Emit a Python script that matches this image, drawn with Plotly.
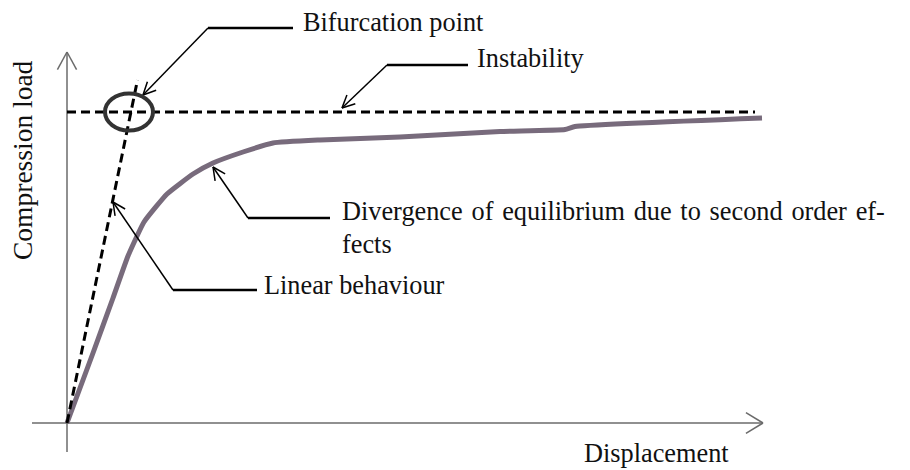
'''
    Schematic load-displacement chart: linear behaviour, bifurcation
    and the divergence of equilibrium due to second order effects.
'''
import math

import plotly.graph_objects as go

# Real response (displacement, compression load), schematic units
curve_disp = [0, 26, 46, 61, 77, 100, 126, 146, 176, 206, 253, 333, 433, 498, 508, 695]
curve_load = [0, 70, 125, 167, 201, 229, 249, 260, 271, 280, 283, 286, 291.5, 293.5, 296.5, 305]

# Ideal linear behaviour and instability load
linear_disp = [0, 70.5]
linear_load = [0, 343]
instab_disp = [0, 688]
instab_load = [311, 311]

# Bifurcation point (circle)
bif_disp = 62
bif_load = 311

# Callouts: arrow tip, elbow, end of the horizontal leader, text
callouts = [
    {'tip': (76, 328), 'elbow': (141, 395), 'end': (226, 395),
     'text': 'Bifurcation point', 'text_at': (234, 401)},
    {'tip': (275, 315), 'elbow': (320, 358), 'end': (401, 358),
     'text': 'Instability', 'text_at': (408, 365)},
    {'tip': (146, 256), 'elbow': (181, 205), 'end': (263, 205),
     'text': 'Divergence\u200a of\u200a equilibrium\u200a due\u200a to\u200a '
             'second\u200a order\u200a ef-',
     'text_at': (273, 212)},
    {'tip': (46, 221), 'elbow': (106, 133), 'end': (190, 133),
     'text': 'Linear behaviour', 'text_at': (195, 138)},
]
extra_text = [('fects', (273, 179))]

FONT = dict(family='Liberation Serif, Times New Roman, serif', size=26.3, color='#111')
AXIS_COLOR = '#6b6b6b'
CURVE_COLOR = '#786b7c'


def open_arrow(tip, frm, length=14, spread=0.45):
    '''Two short strokes forming an open arrowhead at tip.'''
    ang = math.atan2(frm[1] - tip[1], frm[0] - tip[0])
    xs, ys = [], []
    for s in (-spread, spread):
        xs += [tip[0] + length * math.cos(ang + s), tip[0], None]
        ys += [tip[1] + length * math.sin(ang + s), tip[1], None]
    return xs, ys


fig = go.Figure()

# axes
fig.add_trace(go.Scatter(x=[0, 0], y=[-29, 371], mode='lines',
                         line=dict(color=AXIS_COLOR, width=1.5)))
fig.add_trace(go.Scatter(x=[-35, 696], y=[0, 0], mode='lines',
                         line=dict(color=AXIS_COLOR, width=1.5)))
ax, ay = open_arrow((0, 371), (0, 300), length=20, spread=0.5)
fig.add_trace(go.Scatter(x=ax, y=ay, mode='lines', line=dict(color=AXIS_COLOR, width=1.5)))
ax, ay = open_arrow((696, 0), (600, 0), length=20, spread=0.55)
fig.add_trace(go.Scatter(x=ax, y=ay, mode='lines', line=dict(color=AXIS_COLOR, width=1.5)))

# curves
fig.add_trace(go.Scatter(x=curve_disp, y=curve_load, mode='lines',
                         line=dict(color=CURVE_COLOR, width=5, shape='spline', smoothing=0.4)))
fig.add_trace(go.Scatter(x=linear_disp, y=linear_load, mode='lines',
                         line=dict(color='black', width=3, dash='9px,5px')))
fig.add_trace(go.Scatter(x=instab_disp, y=instab_load, mode='lines',
                         line=dict(color='black', width=3, dash='9px,5px')))

fig.add_shape(type='circle', xref='x', yref='y',
              x0=bif_disp - 24, x1=bif_disp + 24, y0=bif_load - 18.5, y1=bif_load + 18.5,
              line=dict(color='#333', width=4))

# callouts
for c in callouts:
    (tx, ty), (ex, ey), (hx, hy) = c['tip'], c['elbow'], c['end']
    fig.add_trace(go.Scatter(x=[tx, ex], y=[ty, ey], mode='lines',
                             line=dict(color='black', width=1.5)))
    fig.add_trace(go.Scatter(x=[ex, hx], y=[ey, hy], mode='lines',
                             line=dict(color='black', width=2.5)))
    ax, ay = open_arrow(c['tip'], c['elbow'])
    fig.add_trace(go.Scatter(x=ax, y=ay, mode='lines', line=dict(color='black', width=1.5)))
    fig.add_annotation(x=c['text_at'][0], y=c['text_at'][1], text=c['text'],
                       showarrow=False, xanchor='left', yanchor='middle', font=FONT)

for text, (x, y) in extra_text:
    fig.add_annotation(x=x, y=y, text=text, showarrow=False,
                       xanchor='left', yanchor='middle', font=FONT)

fig.add_annotation(x=-45, y=263, text='Compression load', textangle=-90,
                   showarrow=False, xanchor='center', yanchor='middle',
                   font=dict(FONT, size=27.5))
fig.add_annotation(x=589, y=-30, text='Displacement', showarrow=False,
                   xanchor='center', yanchor='middle', font=FONT)

# the page body has an 8px margin: shrink the figure and shift the ranges
fig.update_layout(
    width=902, height=462,
    margin=dict(l=0, r=0, t=0, b=0),
    paper_bgcolor='white', plot_bgcolor='white',
    showlegend=False,
    xaxis=dict(range=[-59, 843], visible=False, fixedrange=True),
    yaxis=dict(range=[-47, 415], visible=False, fixedrange=True),
    hovermode=False,
)

fig.write_html('out.html')
